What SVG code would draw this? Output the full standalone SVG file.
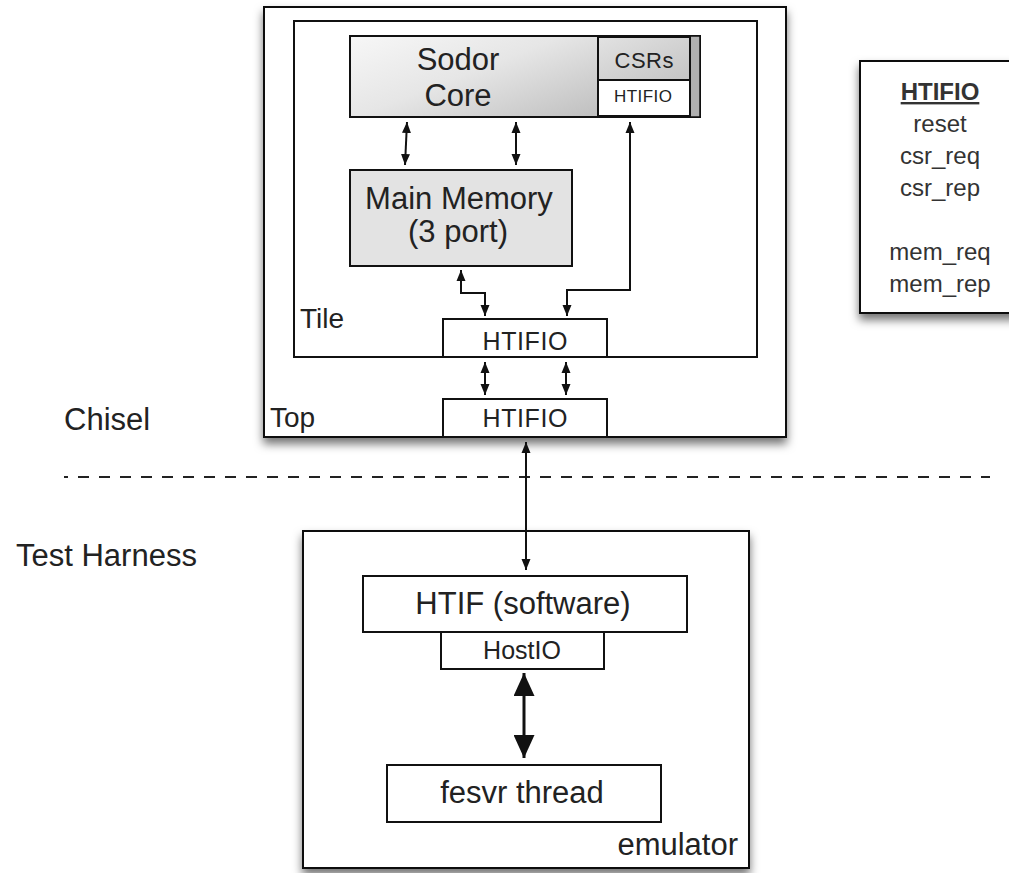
<svg xmlns="http://www.w3.org/2000/svg" width="1009" height="873" viewBox="0 0 1009 873">
<defs>
<style>
text{font-family:"Liberation Sans",Arial,Helvetica,sans-serif;fill:#222}
.box{fill:#fff;stroke:#111;stroke-width:2}
.big{font-size:31px}
.mid{font-size:28px}
.c{text-anchor:middle}
.wire{fill:none;stroke:#111;stroke-width:2}
.leg{font-size:24px;text-anchor:middle;fill:#333}
</style>
<linearGradient id="coreGrad" x1="0" y1="0" x2="1" y2="0.6">
<stop offset="0" stop-color="#f7f7f7"/>
<stop offset="0.45" stop-color="#e6e6e6"/>
<stop offset="1" stop-color="#bcbcbc"/>
</linearGradient>
<linearGradient id="csrGrad" x1="0" y1="0" x2="1" y2="1">
<stop offset="0" stop-color="#e2e2e2"/>
<stop offset="1" stop-color="#c4c4c4"/>
</linearGradient>
<filter id="shadow" x="-10%" y="-10%" width="120%" height="125%">
<feDropShadow dx="0" dy="6" stdDeviation="5" flood-color="#000" flood-opacity="0.55"/>
</filter>
<marker id="ah" markerUnits="userSpaceOnUse" markerWidth="11" markerHeight="10" refX="11" refY="5" orient="auto-start-reverse" viewBox="0 0 11 10">
<path d="M0,0.5 L11,5 L0,9.5 z" fill="#111"/>
</marker>
<marker id="ahBig" markerUnits="userSpaceOnUse" markerWidth="23" markerHeight="21" refX="23" refY="10.5" orient="auto-start-reverse" viewBox="0 0 23 21">
<path d="M0,0 L23,10.5 L0,21 z" fill="#111"/>
</marker>
</defs>
<rect width="1009" height="873" fill="#fff"/>

<g id="top">
<rect class="box" x="264" y="7" width="522" height="430" filter="url(#shadow)"/>
<text class="mid" x="270" y="427">Top</text>
</g>
<g id="tile">
<rect class="box" x="294" y="21" width="463" height="336"/>
<text class="mid" x="300" y="328">Tile</text>
</g>
<g id="sodor-core">
<rect x="350" y="36" width="350" height="81" fill="url(#coreGrad)" stroke="#111" stroke-width="2"/>
<rect x="689" y="36" width="11" height="81" fill="#b0b0b0" stroke="#111" stroke-width="1.5"/>
<text class="big c" x="458" y="70">Sodor</text>
<text class="big c" x="458" y="106">Core</text>
</g>
<g id="csrs">
<rect x="598" y="37" width="92" height="43" fill="url(#csrGrad)" stroke="#111" stroke-width="2"/>
<text class="c" x="644" y="68" font-size="22" textLength="59" lengthAdjust="spacing">CSRs</text>
</g>
<g id="core-htifio">
<rect x="598" y="80" width="92" height="36" fill="#fff" stroke="#111" stroke-width="2"/>
<text class="c" x="643" y="102" font-size="17" textLength="58" lengthAdjust="spacing">HTIFIO</text>
</g>
<g id="main-memory">
<rect x="350" y="170" width="222" height="96" fill="#e3e3e3" stroke="#111" stroke-width="2"/>
<text class="big c" x="459" y="209">Main Memory</text>
<text class="big c" x="458" y="242">(3 port)</text>
</g>
<g id="tile-htifio">
<rect class="box" x="443" y="319" width="164" height="38"/>
<text class="c" x="525" y="350" font-size="25" textLength="85" lengthAdjust="spacing">HTIFIO</text>
</g>
<g id="top-htifio">
<rect class="box" x="443" y="399" width="164" height="38"/>
<text class="c" x="525" y="427" font-size="25" textLength="85" lengthAdjust="spacing">HTIFIO</text>
</g>

<g id="labels">
<text class="big" x="64" y="430">Chisel</text>
<text class="big" x="16" y="566">Test Harness</text>
</g>
<line id="divider" x1="64" y1="477" x2="990" y2="477" stroke="#222" stroke-width="2.2" stroke-dasharray="11 10" stroke-dashoffset="7"/>

<g id="legend">
<rect class="box" x="860" y="61" width="170" height="252" filter="url(#shadow)"/>
<text class="leg" x="940" y="100" font-weight="bold" text-decoration="underline">HTIFIO</text>
<text class="leg" x="940" y="132">reset</text>
<text class="leg" x="940" y="164">csr_req</text>
<text class="leg" x="940" y="196">csr_rep</text>
<text class="leg" x="940" y="260">mem_req</text>
<text class="leg" x="940" y="292">mem_rep</text>
</g>

<g id="emulator">
<rect class="box" x="303" y="531" width="446" height="337" filter="url(#shadow)"/>
<text class="big" x="738" y="855" text-anchor="end">emulator</text>
</g>
<g id="htif-software">
<rect class="box" x="363" y="576" width="324" height="56"/>
<text class="big c" x="523" y="614">HTIF (software)</text>
</g>
<g id="hostio">
<rect class="box" x="441" y="632" width="163" height="37"/>
<text class="c" x="522" y="659" font-size="25">HostIO</text>
</g>
<g id="fesvr-thread">
<rect class="box" x="387" y="765" width="274" height="57"/>
<text class="big c" x="522" y="803">fesvr thread</text>
</g>

<g id="connectors">
<line class="wire" x1="407" y1="122" x2="405" y2="165" marker-start="url(#ah)" marker-end="url(#ah)"/>
<line class="wire" x1="516" y1="122" x2="516" y2="165" marker-start="url(#ah)" marker-end="url(#ah)"/>
<polyline class="wire" points="630,122 630,290 567,290 567,316" marker-start="url(#ah)" marker-end="url(#ah)"/>
<polyline class="wire" points="461,270 461,293 485,293 485,316" marker-start="url(#ah)" marker-end="url(#ah)"/>
<line class="wire" x1="485" y1="362" x2="485" y2="395" marker-start="url(#ah)" marker-end="url(#ah)"/>
<line class="wire" x1="566" y1="362" x2="566" y2="395" marker-start="url(#ah)" marker-end="url(#ah)"/>
<line class="wire" x1="526" y1="442" x2="526" y2="570" marker-start="url(#ah)" marker-end="url(#ah)"/>
<line x1="524" y1="673" x2="524" y2="758" stroke="#111" stroke-width="3" marker-start="url(#ahBig)" marker-end="url(#ahBig)"/>
</g>
</svg>
